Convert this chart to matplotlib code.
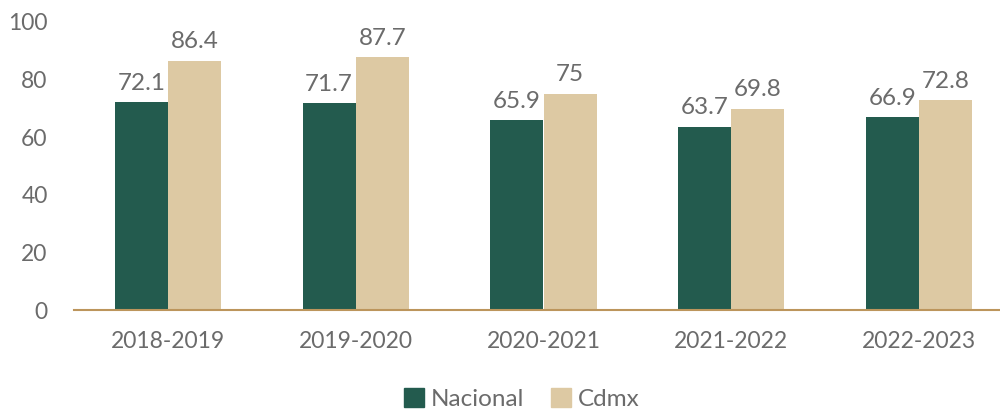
import matplotlib
matplotlib.use("Agg")
import matplotlib.pyplot as plt
import numpy as np
from matplotlib.patches import Patch

categories = ["2018-2019", "2019-2020", "2020-2021", "2021-2022", "2022-2023"]
nacional = [72.1, 71.7, 65.9, 63.7, 66.9]
cdmx = [86.4, 87.7, 75, 69.8, 72.8]
nac_labels = ["72.1", "71.7", "65.9", "63.7", "66.9"]
cdmx_labels = ["86.4", "87.7", "75", "69.8", "72.8"]

plt.rcParams['font.family'] = ['Lato', 'DejaVu Sans']
gray = '#6b6b6b'
c_nac = '#235B4E'
c_cdmx = '#DDC9A3'

fig = plt.figure(figsize=(10, 4.13), dpi=100)
ax = fig.add_axes([0.074, 0.249, 0.939, 0.698])
x = np.arange(len(categories))
w = 0.283
ax.bar(x - w/2, nacional, w, color=c_nac, label='Nacional')
ax.bar(x + w/2, cdmx, w, color=c_cdmx, label='Cdmx')
for xi, v, s in zip(x, nacional, nac_labels):
    ax.text(xi - w/2, v + 3, s, ha='center', va='bottom', fontsize=17.5, color=gray)
for xi, v, s in zip(x, cdmx, cdmx_labels):
    ax.text(xi + w/2, v + 3, s, ha='center', va='bottom', fontsize=17.5, color=gray)

ax.set_xlim(-0.5, len(categories) - 0.5)
ax.set_ylim(0, 100)
ax.set_yticks([0, 20, 40, 60, 80, 100])
ax.set_xticks(x)
ax.set_xticklabels(categories)
ax.tick_params(axis='both', length=0, labelsize=16.5, colors=gray)
ax.tick_params(axis='y', pad=19)
ax.tick_params(axis='x', pad=15)
for s in ['top', 'right', 'left']:
    ax.spines[s].set_visible(False)
ax.spines['bottom'].set_color('#BC955C')
ax.spines['bottom'].set_linewidth(1.5)

handles = [Patch(color=c_nac, label='Nacional'), Patch(color=c_cdmx, label='Cdmx')]
fig.legend(handles=handles, loc='lower center', bbox_to_anchor=(0.522, -0.045), ncol=2,
           frameon=False, fontsize=17.5, labelcolor=gray, handlelength=0.8, handleheight=0.8,
           columnspacing=1.1, handletextpad=0.3)
fig.savefig('out.png', dpi=100)
